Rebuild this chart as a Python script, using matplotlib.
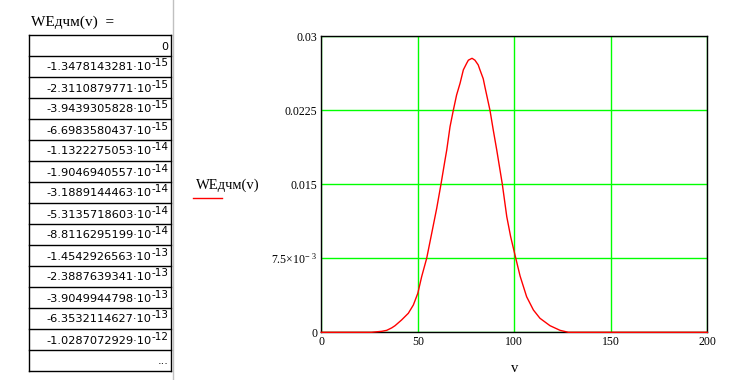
import numpy as np
import matplotlib
matplotlib.use('Agg')
import matplotlib.pyplot as plt

# curve WEдчм(v)
v = [0, 26, 31.3, 33.9, 36.5, 38.2, 41.6, 45.1, 47.7, 50, 52, 54.6, 57.2, 59.8,
     62, 64.1, 65, 66.7, 68.4, 70.1, 71.9, 73.6, 75.3, 76.2, 78.1, 79.6,
     81.3, 82.2, 83.9, 84.8, 87.4, 89.1, 90.9, 93.8, 96.1, 98.1, 100.4, 103,
     106.4, 109.9, 113.3, 118.5, 123.7, 128, 200]
w = [0, 0, 0.0001, 0.0002, 0.00045, 0.00067, 0.00125, 0.00193, 0.00277, 0.00395,
     0.00564, 0.0075, 0.01003, 0.01257, 0.015, 0.01746, 0.01848, 0.02084,
     0.0225, 0.02405, 0.02524, 0.0266, 0.02726, 0.02758, 0.02777, 0.02758,
     0.0271, 0.0266, 0.0257, 0.02485, 0.0225, 0.0205, 0.01848, 0.015, 0.01172,
     0.0097, 0.0078, 0.0057, 0.0036, 0.00226, 0.00142, 0.00067, 0.0002, 0, 0]

# table of values shown on the left
mantissa = ['-1.3478143281', '-2.3110879771', '-3.9439305828', '-6.6983580437',
            '-1.1322275053', '-1.9046940557', '-3.1889144463', '-5.3135718603',
            '-8.8116295199', '-1.4542926563', '-2.3887639341', '-3.9049944798',
            '-6.3532114627', '-1.0287072929']
exponent = ['-15', '-15', '-15', '-15', '-14', '-14', '-14', '-14', '-14',
            '-13', '-13', '-13', '-13', '-12']

xticks = [0, 50, 100, 150, 200]
yticks = [0, 0.0075, 0.015, 0.0225, 0.03]
ytick_labels = ['0', r'$\mathregular{7.5{\times}10^{-\ 3}}$', '0.015', '0.0225', '0.03']

serif = 'Liberation Serif'
sans = 'DejaVu Sans'
green = '#00ff00'

fig = plt.figure(figsize=(7.29, 3.8), dpi=100)
renderer = fig.canvas.get_renderer()

# overlay in pixel coordinates for table and legend
ov = fig.add_axes([0, 0, 1, 1])
ov.set_xlim(0, 729)
ov.set_ylim(380, 0)
ov.axis('off')

ov.text(31, 22, 'WEдчм(v)  =', family=serif, fontsize=11, va='center', ha='left')

left, right, top, rh = 29.5, 171.5, 35, 21
n = len(mantissa) + 2
for i in range(n + 1):
    ov.plot([left, right], [top + i * rh, top + i * rh], color='black', lw=1)
ov.plot([left, left], [top, top + n * rh], color='black', lw=1)
ov.plot([right, right], [top, top + n * rh], color='black', lw=1)

ov.text(right - 3, top + rh / 2 + 1, '0', family=sans, fontsize=8, ha='right', va='center')
for i, (m, e) in enumerate(zip(mantissa, exponent)):
    yc = top + (i + 1) * rh + rh / 2 + 1
    te = ov.text(right - 3, yc - 4, e, family=sans, fontsize=7.5, ha='right', va='center')
    ew = te.get_window_extent(renderer).width
    ov.text(right - 3 - ew, yc, m + '·10', family=sans, fontsize=8.2, ha='right', va='center')
ov.text(right - 3, top + (n - 1) * rh + rh / 2, '...', family=sans, fontsize=8,
        ha='right', va='center')
ov.plot([173.5, 173.5], [0, 380], color='#c0c0c0', lw=1)

# legend
ov.text(196, 185, 'WEдчм(v)', family=serif, fontsize=10.5, ha='left', va='center')
ov.plot([193, 222], [198, 198], color='red', lw=1)

ax = fig.add_axes([321.3 / 729, 1 - 332.3 / 380, 386 / 729, 296 / 380])
ax.plot(v, w, color='red', lw=1, zorder=3, clip_on=False)
ax.set_xlim(0, 200)
ax.set_ylim(0, 0.03)
ax.set_xticks(xticks)
ax.set_xticklabels([str(t) for t in xticks], family=serif, fontsize=8.5)
ax.set_yticks(yticks)
ax.set_yticklabels(ytick_labels, family=serif, fontsize=8.5)
ax.tick_params(length=0, pad=3)
ax.grid(True, color=green, lw=1)
ax.set_axisbelow(True)
for s in ax.spines.values():
    s.set_color('black')
    s.set_linewidth(1)
ax.set_xlabel('v', family=serif, fontsize=10.5, labelpad=10)

fig.savefig('out.png', dpi=100)
